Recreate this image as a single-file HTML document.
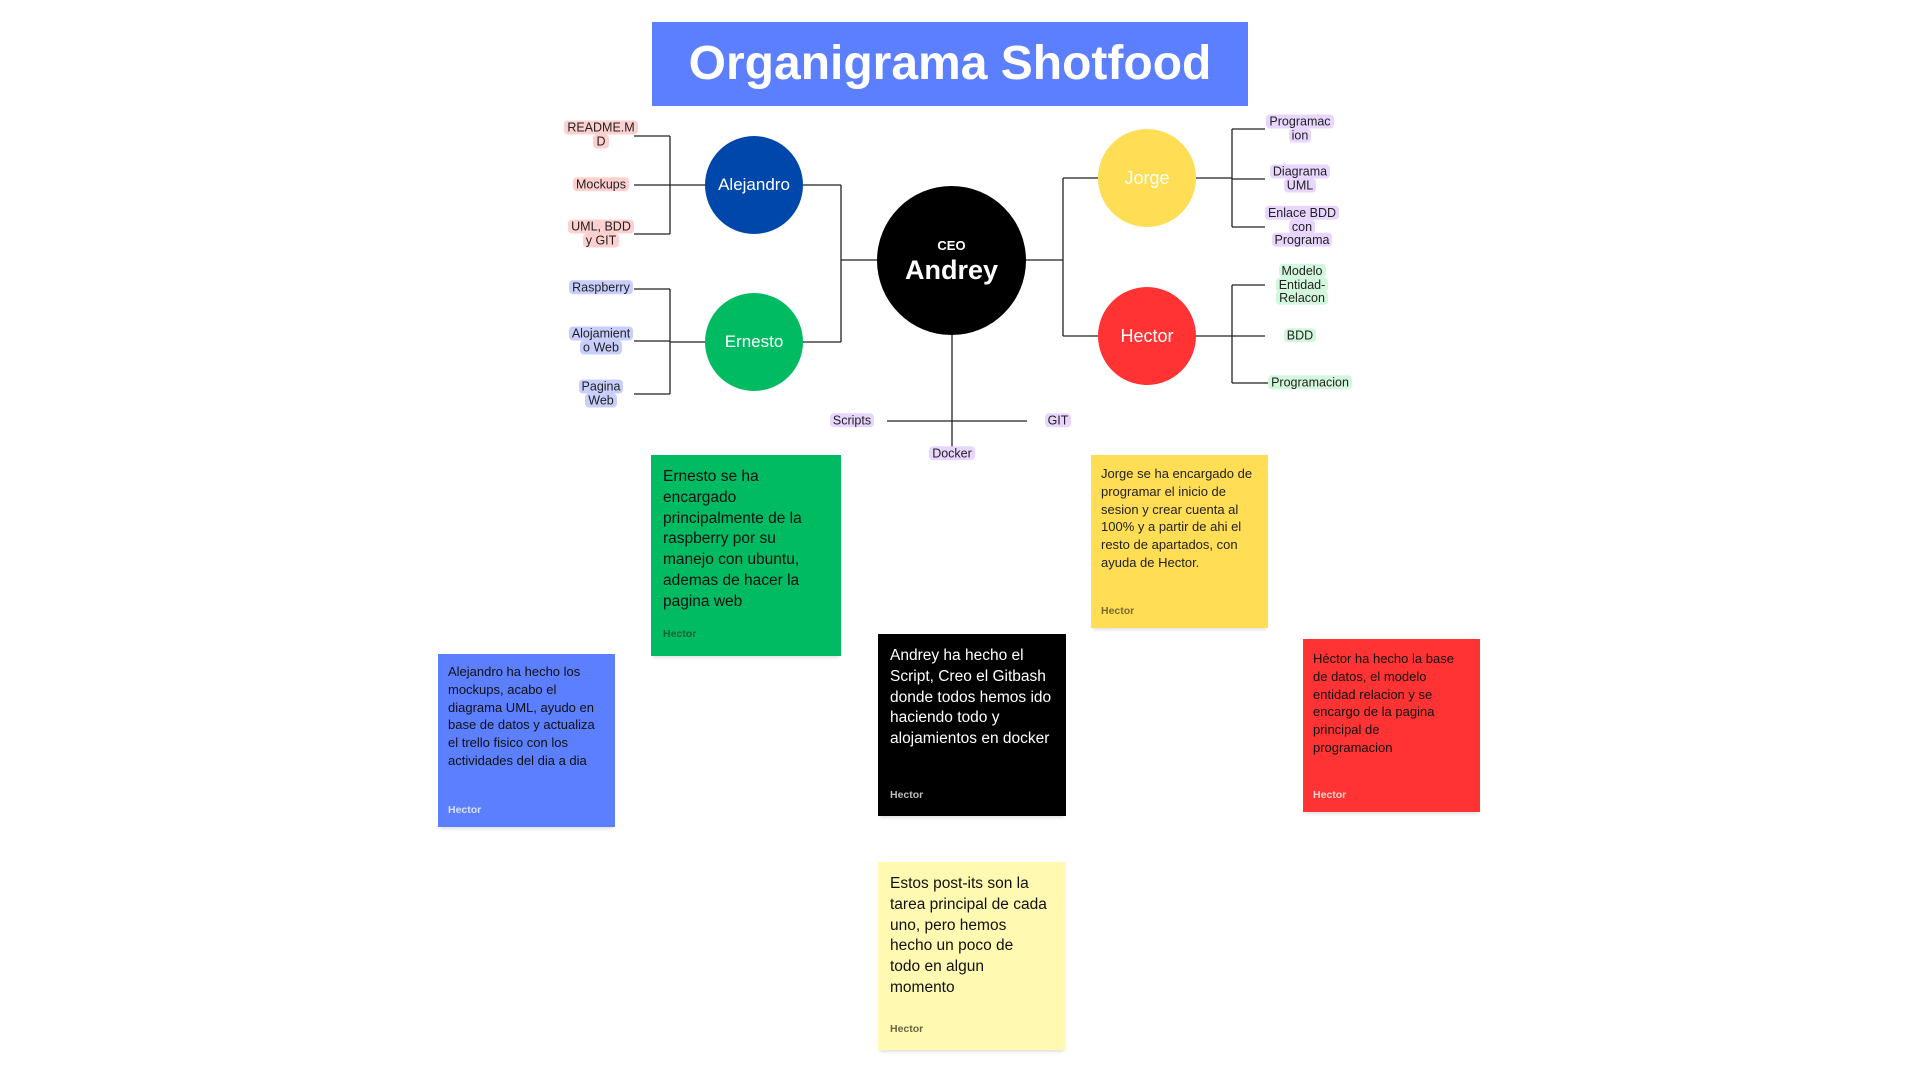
<!DOCTYPE html>
<html><head><meta charset="utf-8">
<style>
html,body{margin:0;padding:0;background:#fff;}
body{width:1920px;height:1080px;position:relative;overflow:hidden;font-family:"Liberation Sans","DejaVu Sans",sans-serif;}
.abs{position:absolute;}
.title{left:652px;top:22px;width:596px;height:84px;background:#5b7fff;color:#fff;font-weight:bold;font-size:48px;text-align:center;line-height:84px;}
.circ{position:absolute;border-radius:50%;display:flex;align-items:center;justify-content:center;color:#fff;font-size:17px;}
.tag{position:absolute;width:80px;text-align:center;font-size:12.5px;line-height:13.5px;color:#222;transform:translate(-50%,-50%);}
.tag span{padding:0 3px;border-radius:4px;-webkit-box-decoration-break:clone;box-decoration-break:clone;}
.pk span{background:#ffd0d0}.bl span{background:#c8cffc}.pu span{background:#e8d6ff}.gr span{background:#d3f7dd}
.note{position:absolute;box-sizing:border-box;box-shadow:0 4px 3px -2px rgba(0,0,0,0.12);}
.note .t{position:absolute;left:12px;right:20px;}
.note .a{position:absolute;left:12px;font-size:10.5px;font-weight:bold;}
</style></head><body>
<div class="abs title">Organigrama Shotfood</div>

<svg class="abs" style="left:0;top:0" width="1920" height="1080">
<g fill="none" stroke="#222" stroke-width="1.3">
<path d="M877 260 H841 M841 185 V342 M803 185 H841 M803 342 H841"/>
<path d="M1026 260 H1063 M1063 178 V336 M1063 178 H1100 M1063 336 H1100"/>
<path d="M705 185 H670 M670 136 V234 M634 136 H670 M634 185 H670 M634 234 H670"/>
<path d="M705 342 H670 M670 289 V394 M634 289 H670 M634 341 H670 M634 394 H670"/>
<path d="M1196 178 H1232 M1232 129 V227 M1232 129 H1265 M1232 179 H1265 M1232 227 H1265"/>
<path d="M1196 336 H1232 M1232 285 V383 M1232 285 H1265 M1232 336 H1265 M1232 383 H1268"/>
<path d="M952 334 V447 M887 421 H1027"/>
</g>
</svg>

<div class="circ" style="left:877px;top:186px;width:149px;height:149px;background:#000;flex-direction:column;font-weight:bold;"><div style="font-size:13px;margin-top:2px">CEO</div><div style="font-size:27px;margin-top:2px">Andrey</div></div>
<div class="circ" style="left:705px;top:136px;width:98px;height:98px;background:#0047ab;">Alejandro</div>
<div class="circ" style="left:705px;top:293px;width:98px;height:98px;background:#00bb62;">Ernesto</div>
<div class="circ" style="left:1098px;top:129px;width:98px;height:98px;background:#ffdd55;font-size:18px;">Jorge</div>
<div class="circ" style="left:1098px;top:287px;width:98px;height:98px;background:#ff3333;font-size:18px;">Hector</div>

<div class="tag pk" style="left:601px;top:135px"><span>README.M</span><br><span>D</span></div>
<div class="tag pk" style="left:601px;top:185px"><span>Mockups</span></div>
<div class="tag pk" style="left:601px;top:234px"><span>UML, BDD</span><br><span>y GIT</span></div>
<div class="tag bl" style="left:601px;top:288px"><span>Raspberry</span></div>
<div class="tag bl" style="left:601px;top:341px"><span>Alojamient</span><br><span>o Web</span></div>
<div class="tag bl" style="left:601px;top:394px"><span>Pagina</span><br><span>Web</span></div>
<div class="tag pu" style="left:1300px;top:129px"><span>Programac</span><br><span>ion</span></div>
<div class="tag pu" style="left:1300px;top:179px"><span>Diagrama</span><br><span>UML</span></div>
<div class="tag pu" style="left:1302px;top:227px"><span>Enlace BDD</span><br><span>con</span><br><span>Programa</span></div>
<div class="tag gr" style="left:1302px;top:285px"><span>Modelo</span><br><span>Entidad-</span><br><span>Relacon</span></div>
<div class="tag gr" style="left:1300px;top:336px"><span>BDD</span></div>
<div class="tag gr" style="left:1310px;top:383px;width:100px"><span>Programacion</span></div>
<div class="tag pu" style="left:852px;top:421px"><span>Scripts</span></div>
<div class="tag pu" style="left:1058px;top:421px"><span>GIT</span></div>
<div class="tag pu" style="left:952px;top:454px"><span>Docker</span></div>

<div class="note" style="left:651px;top:455px;width:190px;height:201px;background:#00bb62;color:#111;">
<div class="t" style="top:12px;font-size:15.5px;line-height:20.8px;">Ernesto se ha encargado principalmente de la raspberry por su manejo con ubuntu, ademas de hacer la pagina web</div>
<div class="a" style="top:173px;color:#16603a">Hector</div></div>

<div class="note" style="left:1091px;top:455px;width:177px;height:173px;background:#ffdd55;color:#222;">
<div class="t" style="top:10px;left:10px;right:14px;font-size:13px;line-height:17.8px;">Jorge se ha encargado de programar el inicio de sesion y crear cuenta al 100% y a partir de ahi el resto de apartados, con ayuda de Hector.</div>
<div class="a" style="top:150px;left:10px;color:#7a6a30">Hector</div></div>

<div class="note" style="left:438px;top:654px;width:177px;height:173px;background:#5b7fff;color:#111;">
<div class="t" style="top:9px;left:10px;right:12px;font-size:13px;line-height:17.8px;">Alejandro ha hecho los mockups, acabo el diagrama UML, ayudo en base de datos y actualiza el trello fisico con los actividades del dia a dia</div>
<div class="a" style="top:150px;left:10px;color:#d8e0ff">Hector</div></div>

<div class="note" style="left:878px;top:634px;width:188px;height:182px;background:#000;color:#fff;">
<div class="t" style="top:12px;right:14px;font-size:15.5px;line-height:20.8px;">Andrey ha hecho el Script, Creo el Gitbash donde todos hemos ido haciendo todo y alojamientos en docker</div>
<div class="a" style="top:155px;color:#bbb">Hector</div></div>

<div class="note" style="left:1303px;top:639px;width:177px;height:173px;background:#ff3333;color:#111;">
<div class="t" style="top:11px;left:10px;right:18px;font-size:13px;line-height:17.8px;">Héctor ha hecho la base de datos, el modelo entidad relacion y se encargo de la pagina principal de programacion</div>
<div class="a" style="top:150px;left:10px;color:#ffd0d0">Hector</div></div>

<div class="note" style="left:878px;top:862px;width:188px;height:188px;background:#fff9b1;color:#111;">
<div class="t" style="top:12px;right:4px;font-size:15.5px;line-height:20.8px;white-space:nowrap;">Estos post-its son la<br>tarea principal de cada<br>uno, pero hemos<br>hecho un poco de<br>todo en algun<br>momento</div>
<div class="a" style="top:161px;color:#6b6540">Hector</div></div>
</body></html>
